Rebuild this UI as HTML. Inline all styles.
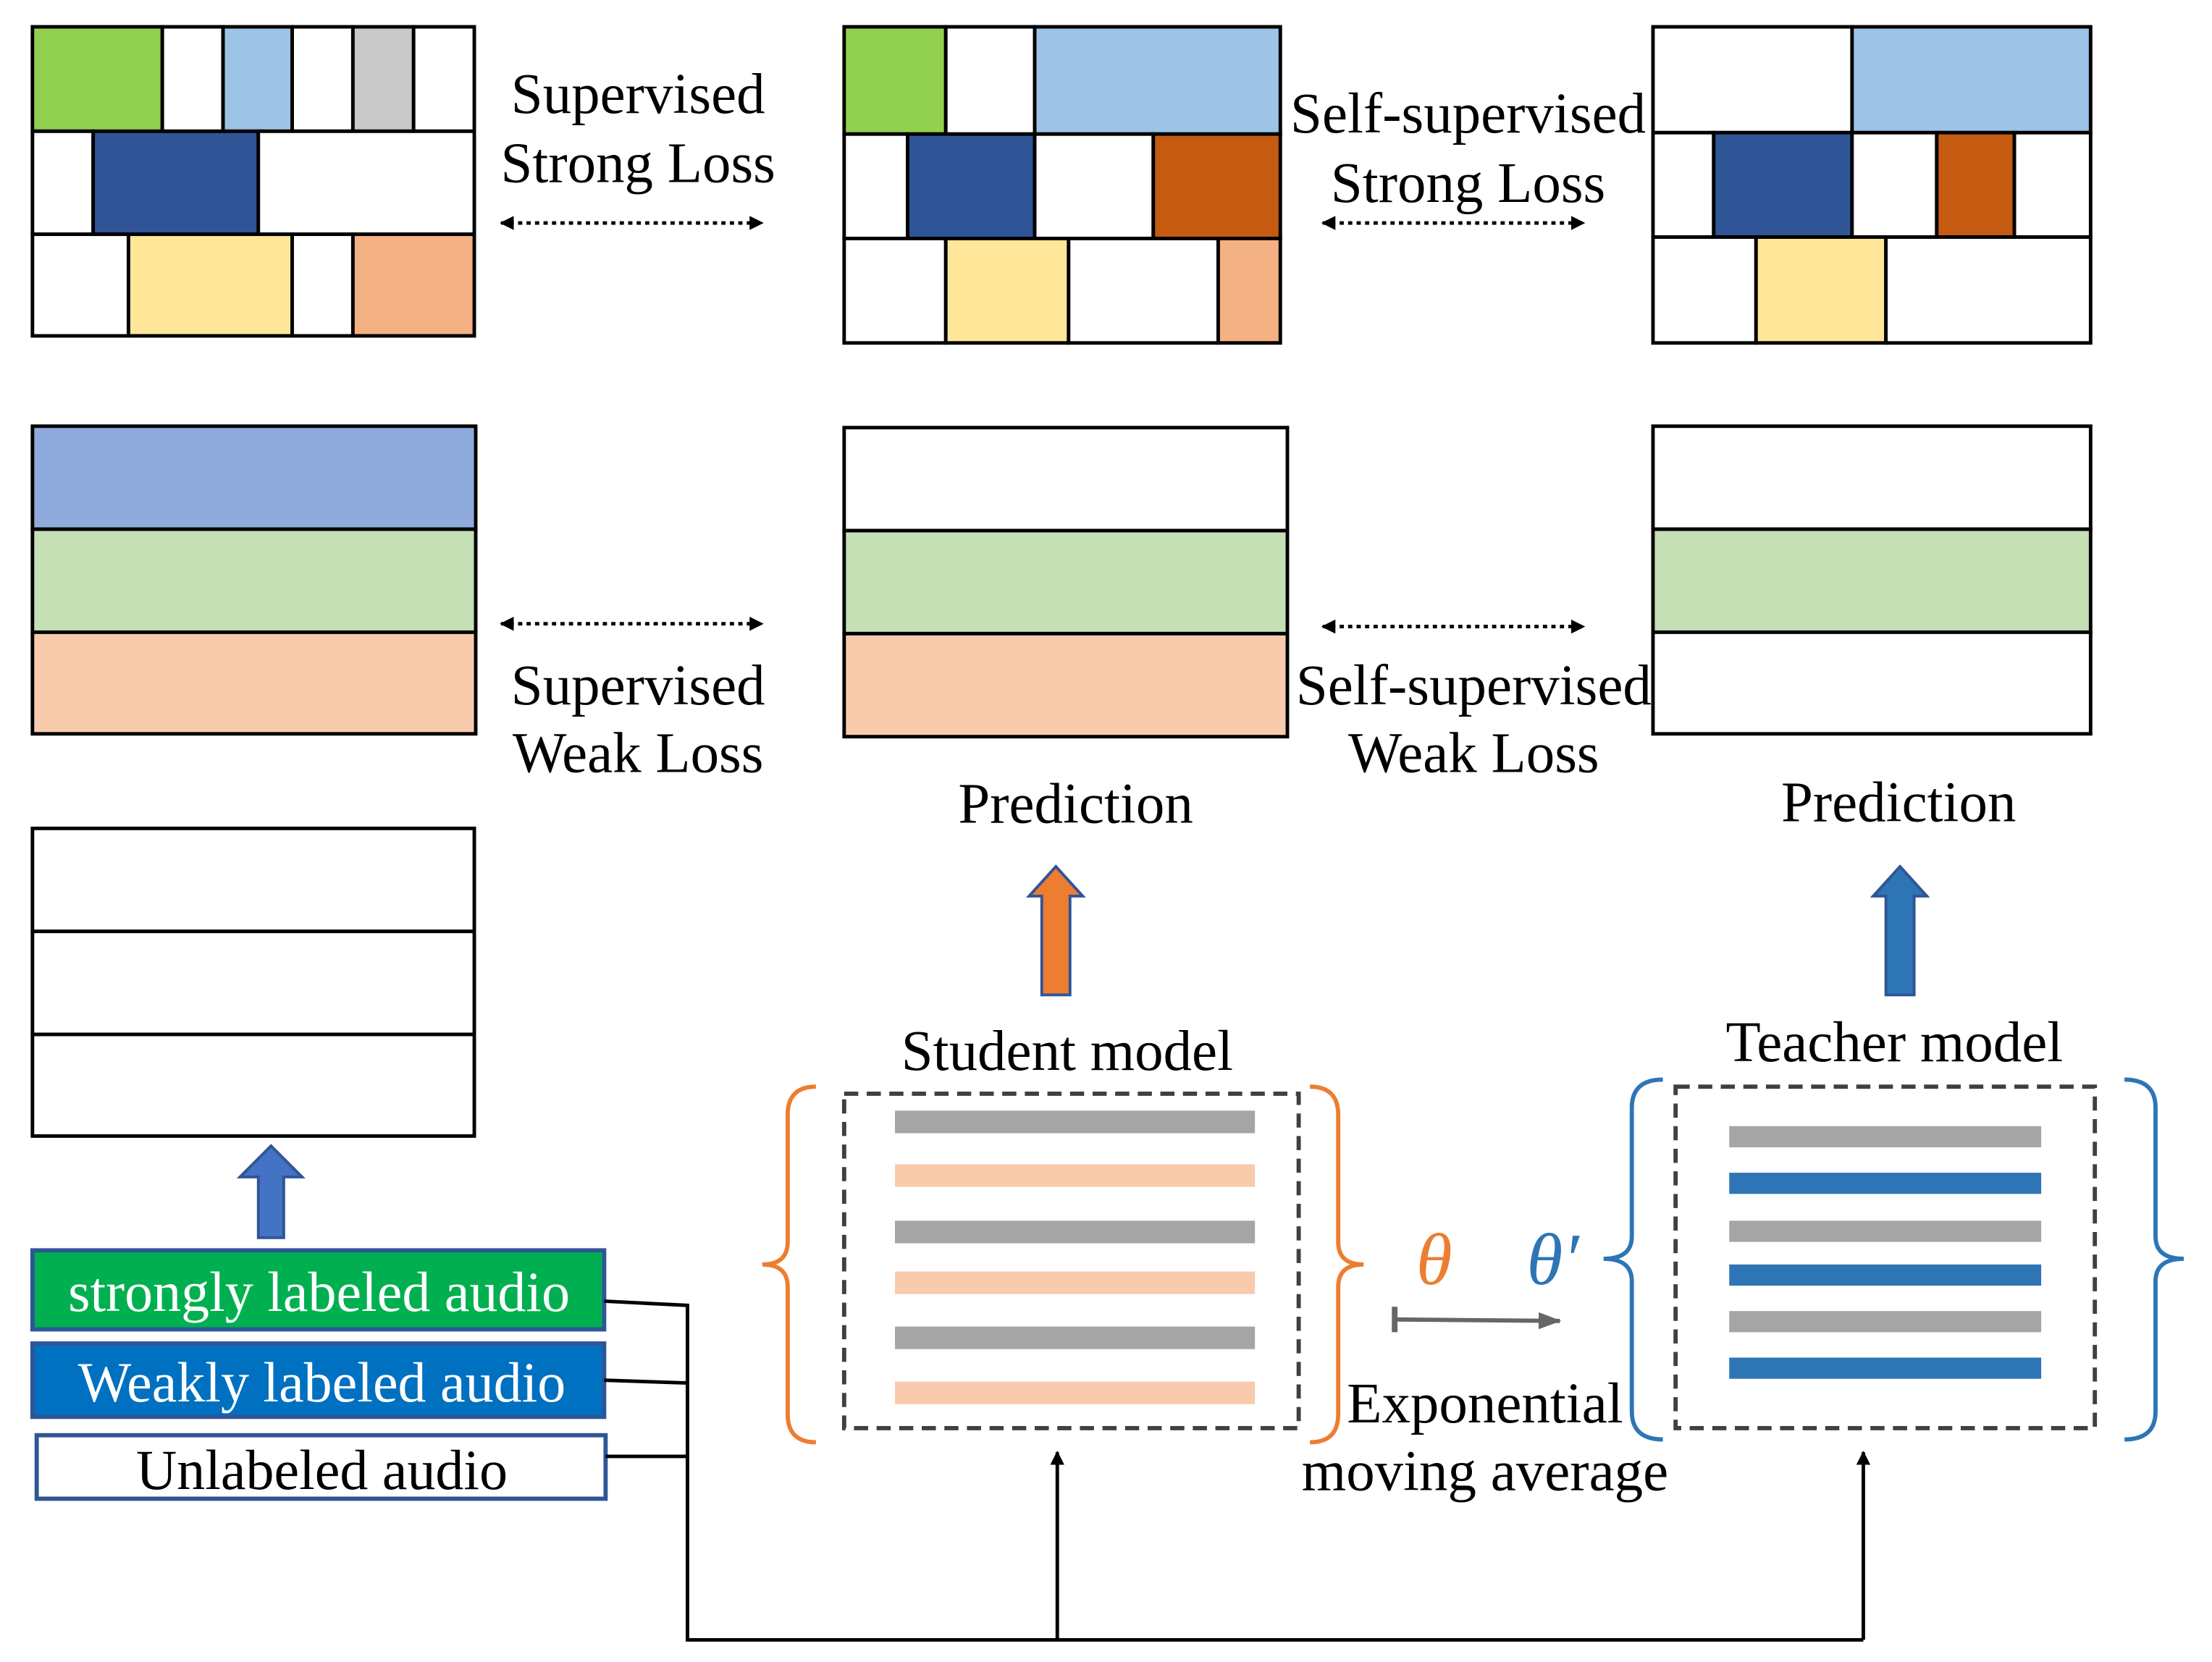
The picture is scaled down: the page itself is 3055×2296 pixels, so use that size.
<!DOCTYPE html>
<html><head><meta charset="utf-8"><style>
html,body{margin:0;padding:0;background:#fff;}
svg{display:block;}
text{font-family:"Liberation Serif",serif;}
</style></head><body>
<svg width="3055" height="2296" viewBox="0 0 1567 1177.7" preserveAspectRatio="none" xmlns="http://www.w3.org/2000/svg">
<defs>
<marker id="ah" markerWidth="10" markerHeight="10" refX="9" refY="5" orient="auto-start-reverse" markerUnits="userSpaceOnUse"><path d="M0,0 L10,5 L0,10 z" fill="#000"/></marker>
<marker id="ag" markerWidth="16" markerHeight="12" refX="15" refY="6" orient="auto" markerUnits="userSpaceOnUse"><path d="M0,0 L16,6 L0,12 z" fill="#666"/></marker>
</defs>
<g stroke="#000" stroke-width="2.5">
<rect x="23" y="19" width="92" height="74" fill="#92d050"/>
<rect x="115" y="19" width="43" height="74" fill="#fff"/>
<rect x="158" y="19" width="49" height="74" fill="#9dc3e6"/>
<rect x="207" y="19" width="43" height="74" fill="#fff"/>
<rect x="250" y="19" width="43" height="74" fill="#c9c9c9"/>
<rect x="293" y="19" width="43" height="74" fill="#fff"/>
<rect x="23" y="93" width="43" height="73" fill="#fff"/>
<rect x="66" y="93" width="117" height="73" fill="#2f5597"/>
<rect x="183" y="93" width="153" height="73" fill="#fff"/>
<rect x="23" y="166" width="68" height="72" fill="#fff"/>
<rect x="91" y="166" width="116" height="72" fill="#ffe699"/>
<rect x="207" y="166" width="43" height="72" fill="#fff"/>
<rect x="250" y="166" width="86" height="72" fill="#f4b183"/>
<rect x="598" y="19" width="72" height="76" fill="#92d050"/>
<rect x="670" y="19" width="63" height="76" fill="#fff"/>
<rect x="733" y="19" width="174" height="76" fill="#9dc3e6"/>
<rect x="598" y="95" width="45" height="74" fill="#fff"/>
<rect x="643" y="95" width="90" height="74" fill="#2f5597"/>
<rect x="733" y="95" width="84" height="74" fill="#fff"/>
<rect x="817" y="95" width="90" height="74" fill="#c55a11"/>
<rect x="598" y="169" width="72" height="74" fill="#fff"/>
<rect x="670" y="169" width="87" height="74" fill="#ffe699"/>
<rect x="757" y="169" width="106" height="74" fill="#fff"/>
<rect x="863" y="169" width="44" height="74" fill="#f4b183"/>
<rect x="1171" y="19" width="141" height="75" fill="#fff"/>
<rect x="1312" y="19" width="169" height="75" fill="#9dc3e6"/>
<rect x="1171" y="94" width="43" height="74" fill="#fff"/>
<rect x="1214" y="94" width="98" height="74" fill="#2f5597"/>
<rect x="1312" y="94" width="60" height="74" fill="#fff"/>
<rect x="1372" y="94" width="55" height="74" fill="#c55a11"/>
<rect x="1427" y="94" width="54" height="74" fill="#fff"/>
<rect x="1171" y="168" width="73" height="75" fill="#fff"/>
<rect x="1244" y="168" width="92" height="75" fill="#ffe699"/>
<rect x="1336" y="168" width="145" height="75" fill="#fff"/>
<rect x="23" y="302" width="314" height="73" fill="#8faadc"/>
<rect x="23" y="375" width="314" height="73" fill="#c5e0b4"/>
<rect x="23" y="448" width="314" height="72" fill="#f8cbad"/>
<rect x="598" y="303" width="314" height="73" fill="#fff"/>
<rect x="598" y="376" width="314" height="73" fill="#c5e0b4"/>
<rect x="598" y="449" width="314" height="73" fill="#f8cbad"/>
<rect x="1171" y="302" width="310" height="73" fill="#fff"/>
<rect x="1171" y="375" width="310" height="73" fill="#c5e0b4"/>
<rect x="1171" y="448" width="310" height="72" fill="#fff"/>
<rect x="23" y="587" width="313" height="73" fill="#fff"/>
<rect x="23" y="660" width="313" height="73" fill="#fff"/>
<rect x="23" y="733" width="313" height="72" fill="#fff"/>
</g>
<g stroke="#000" stroke-width="2.5" stroke-dasharray="3,3" marker-start="url(#ah)" marker-end="url(#ah)">
<line x1="355" y1="158" x2="540" y2="158"/>
<line x1="937" y1="158" x2="1122" y2="158"/>
<line x1="355" y1="442" x2="540" y2="442"/>
<line x1="937" y1="444" x2="1122" y2="444"/>
</g>
<g font-size="40.5" text-anchor="middle" fill="#000">
<text x="452" y="80">Supervised</text>
<text x="452" y="129">Strong Loss</text>
<text x="1040" y="94">Self-supervised</text>
<text x="1040" y="143">Strong Loss</text>
<text x="452" y="499">Supervised</text>
<text x="452" y="547">Weak Loss</text>
<text x="1044" y="499">Self-supervised</text>
<text x="1044" y="547">Weak Loss</text>
<text x="762" y="583">Prediction</text>
<text x="1345" y="582">Prediction</text>
<text x="756" y="758">Student model</text>
<text x="1342" y="752">Teacher model</text>
<text x="1052" y="1008">Exponential</text>
<text x="1052" y="1056">moving average</text>
</g>
<path d="M738,705 L738,635 L729,635 L748,614 L767,635 L758,635 L758,705 Z" fill="#ed7d31" stroke="#2f5597" stroke-width="2"/>
<path d="M1336,705 L1336,635 L1327,635 L1346,614 L1365,635 L1356,635 L1356,705 Z" fill="#2e75b6" stroke="#2f5597" stroke-width="2"/>
<path d="M183,877 L183,834 L170,834 L192,812 L214,834 L201,834 L201,877 Z" fill="#4472c4" stroke="#2f5597" stroke-width="2"/>
<rect x="598" y="775" width="322" height="237" fill="none" stroke="#404040" stroke-width="3" stroke-dasharray="10,6"/>
<g>
<rect x="634" y="787" width="255" height="16" fill="#a5a5a5"/>
<rect x="634" y="825" width="255" height="16" fill="#f8cbad"/>
<rect x="634" y="865" width="255" height="16" fill="#a5a5a5"/>
<rect x="634" y="901" width="255" height="16" fill="#f8cbad"/>
<rect x="634" y="940" width="255" height="16" fill="#a5a5a5"/>
<rect x="634" y="979" width="255" height="16" fill="#f8cbad"/>
</g>
<g fill="none" stroke="#ed7d31" stroke-width="3">
<path d="M578,770 Q558,770 558,790 L558,880 Q558,896 540,896 Q558,896 558,912 L558,1002 Q558,1022 578,1022"/>
<path d="M928,770 Q948,770 948,790 L948,880 Q948,896 966,896 Q948,896 948,912 L948,1002 Q948,1022 928,1022"/>
</g>
<rect x="1187" y="770" width="297" height="242" fill="none" stroke="#404040" stroke-width="3" stroke-dasharray="10,6"/>
<g>
<rect x="1225" y="798" width="221" height="15" fill="#a5a5a5"/>
<rect x="1225" y="831" width="221" height="15" fill="#2e75b6"/>
<rect x="1225" y="865" width="221" height="15" fill="#a5a5a5"/>
<rect x="1225" y="896" width="221" height="15" fill="#2e75b6"/>
<rect x="1225" y="929" width="221" height="15" fill="#a5a5a5"/>
<rect x="1225" y="962" width="221" height="15" fill="#2e75b6"/>
</g>
<g fill="none" stroke="#2e75b6" stroke-width="3">
<path d="M1178,765 Q1156,765 1156,785 L1156,876 Q1156,892 1136,892 Q1156,892 1156,908 L1156,1000 Q1156,1020 1178,1020"/>
<path d="M1505,765 Q1527,765 1527,785 L1527,876 Q1527,892 1547,892 Q1527,892 1527,908 L1527,1000 Q1527,1020 1505,1020"/>
</g>
<text x="1016" y="910" font-size="52" font-style="italic" fill="#ed7d31" text-anchor="middle">θ</text>
<text x="1100" y="910" font-size="52" font-style="italic" fill="#2e75b6" text-anchor="middle">θ′</text>
<line x1="988" y1="935" x2="1105" y2="936" stroke="#666" stroke-width="3" marker-end="url(#ag)"/>
<line x1="988" y1="926" x2="988" y2="944" stroke="#666" stroke-width="4"/>
<rect x="23" y="886" width="405" height="56" fill="#00b050" stroke="#2f5597" stroke-width="3"/>
<text x="226" y="929" font-size="40" fill="#fff" text-anchor="middle">strongly labeled audio</text>
<rect x="23" y="952" width="405" height="52" fill="#0070c0" stroke="#2f5597" stroke-width="3"/>
<text x="228" y="993" font-size="40" fill="#fff" text-anchor="middle">Weakly labeled audio</text>
<rect x="26" y="1017" width="403" height="45" fill="#fff" stroke="#2f5597" stroke-width="3"/>
<text x="228" y="1055" font-size="40" fill="#000" text-anchor="middle">Unlabeled audio</text>
<g stroke="#000" stroke-width="2.5" fill="none">
<polyline points="428,922 487,925 487,1162 1320,1162"/>
<line x1="428" y1="978" x2="487" y2="980"/>
<line x1="429" y1="1032" x2="487" y2="1032"/>
<line x1="749" y1="1162" x2="749" y2="1029" marker-end="url(#ah)"/>
<line x1="1320" y1="1162" x2="1320" y2="1029" marker-end="url(#ah)"/>
</g>
</svg>
</body></html>
